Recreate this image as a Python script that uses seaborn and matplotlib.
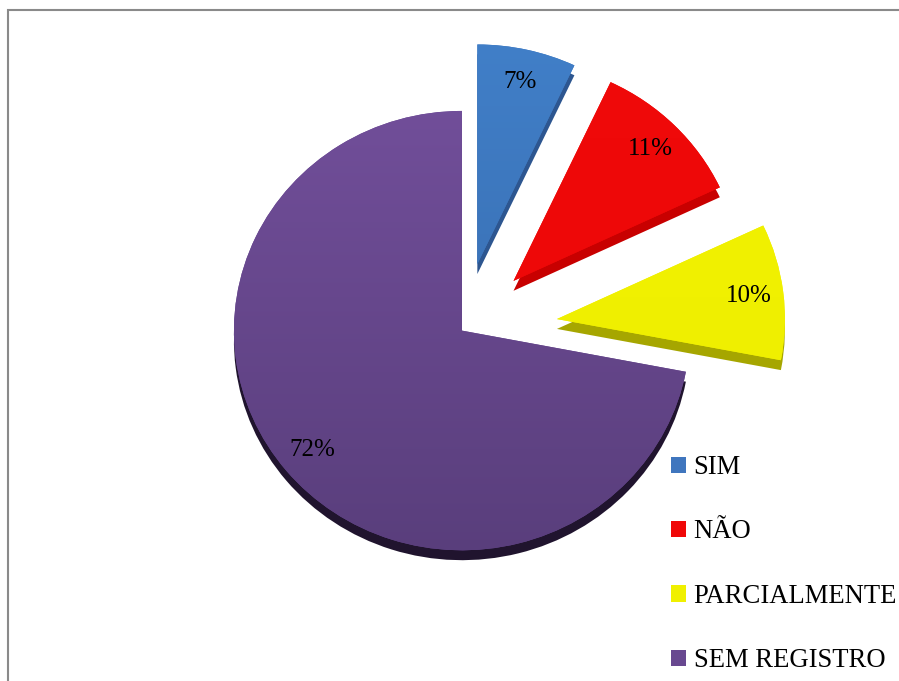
import numpy as np
import matplotlib
matplotlib.use("Agg")
import matplotlib.pyplot as plt
import seaborn as sns
from matplotlib.patches import Patch, Rectangle
from matplotlib.colors import LinearSegmentedColormap

categories = ["SIM", "NÃO", "PARCIALMENTE", "SEM REGISTRO"]
values = [7, 11, 10, 72]

explode = [0.31, 0.32, 0.42, 0.0]
top_colors = ["#4282CC", "#F00A0A", "#F2F200", "#7853A2"]
bottom_colors = ["#3464A4", "#EC0606", "#EEEE00", "#563C78"]
face_colors = ["#3F76BE", "#F00808", "#F0F000", "#684890"]
side_colors = ["#2D5690", "#C80000", "#A6A600", "#20142E"]

sns.set_theme(style="white")
plt.rcParams['font.family'] = ['Liberation Serif', 'DejaVu Serif']
plt.rcParams['text.color'] = 'black'

fig = plt.figure(figsize=(8.99, 6.81), dpi=100)
ax = fig.add_axes([0, 0, 1, 1])

# 3D side (depth)
ax.pie(values, explode=explode, startangle=90, counterclock=False,
       colors=side_colors, center=(0.0, -0.045), radius=1.0,
       wedgeprops=dict(linewidth=0))

wedges, texts, autotexts = ax.pie(
    values, explode=explode, startangle=90, counterclock=False,
    colors=face_colors, radius=1.0, autopct=lambda p: f"{p:.0f}%",
    pctdistance=0.85, wedgeprops=dict(linewidth=0),
    textprops=dict(fontsize=18, color="black"))

# vertical gradients clipped to each wedge
grad = np.linspace(0, 1, 256).reshape(-1, 1)
for w, c1, c2 in zip(wedges, top_colors, bottom_colors):
    cmap = LinearSegmentedColormap.from_list("g", [c2, c1])
    im = ax.imshow(grad, cmap=cmap, extent=(-1.6, 1.8, -1.3, 1.6),
                   origin="lower", aspect="auto", zorder=w.get_zorder() + 0.01)
    im.set_clip_path(w)
for t in autotexts:
    t.set_zorder(10)

ax.set_xlim(-2.026, 1.917)
ax.set_ylim(-1.595, 1.505)
ax.set_aspect("auto")
ax.axis("off")

handles = [Patch(facecolor=c, edgecolor="none") for c in face_colors]
leg = ax.legend(handles, categories, loc="upper left",
                bbox_to_anchor=(671 / 899, 1 - 455 / 681),
                bbox_transform=fig.transFigure, frameon=False,
                fontsize=19.2, handlelength=0.55, handleheight=0.55,
                handletextpad=0.3, labelspacing=1.48, borderpad=0,
                borderaxespad=0, labelcolor="black")

fig.patches.append(Rectangle((8 / 899, -0.05), 1.2, 1 - 10 / 681 + 0.05,
                             transform=fig.transFigure, fill=False,
                             edgecolor="#8A8A8A", linewidth=1.5))

fig.savefig("out.png", dpi=100)
